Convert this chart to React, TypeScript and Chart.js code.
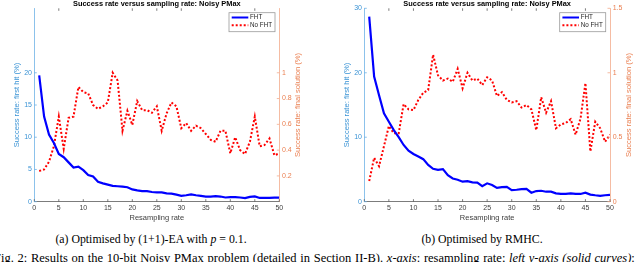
import React, { useEffect, useRef } from 'react';
import { Chart, registerables } from 'chart.js';

Chart.register(...registerables);

// ---------- data ----------
const resamplingRates = [
  1, 2, 3, 4, 5, 6, 7, 8, 9, 10, 11, 12, 13, 14, 15, 16, 17, 18, 19, 20, 21, 22, 23, 24, 25,
  26, 27, 28, 29, 30, 31, 32, 33, 34, 35, 36, 37, 38, 39, 40, 41, 42, 43, 44, 45, 46, 47, 48, 49, 50,
];
const xTickValues = [0, 5, 10, 15, 20, 25, 30, 35, 40, 45, 50];

// (a) (1+1)-EA, p = 0.1
const fhtEA = [
  19.6, 13.2, 10.4, 9.1, 7.4, 6.9, 6.1, 5.3, 5.45, 4.9, 4.15, 3.9, 3.1, 2.85, 2.65, 2.45, 2.4, 2.35, 2.25, 1.9,
  1.75, 1.65, 1.65, 1.5, 1.45, 1.45, 1.3, 1.25, 1.1, 0.9, 1.0, 1.12, 1.0, 0.9, 0.8, 0.8, 0.85, 0.8, 0.65, 0.7,
  0.7, 0.65, 0.55, 0.75, 0.82, 0.58, 0.6, 0.58, 0.62, 0.64,
];
const noFhtEA = [
  0.238, 0.25, 0.31, 0.43, 0.66, 0.41, 0.65, 0.66, 0.89, 0.85, 0.84, 0.75, 0.72, 0.74, 0.77, 1.0, 0.94, 0.55,
  0.705, 0.595, 0.78, 0.71, 0.71, 0.69, 0.74, 0.55, 0.685, 0.77, 0.74, 0.57, 0.61, 0.55, 0.59, 0.57, 0.525, 0.48,
  0.465, 0.55, 0.55, 0.375, 0.5, 0.4, 0.37, 0.465, 0.66, 0.43, 0.44, 0.49, 0.36, 0.375,
];

// (b) RMHC
const fhtRMHC = [
  28.7, 19.4, 16.5, 13.7, 12.4, 11.1, 10.0, 8.8, 7.9, 7.4, 7.0, 6.6, 5.7, 5.1, 4.95, 5.05, 4.1, 3.6, 3.4, 3.1,
  3.2, 3.0, 2.95, 2.4, 2.85, 2.6, 2.15, 2.25, 2.3, 1.8, 1.85, 1.95, 2.0, 1.4, 1.65, 1.7, 1.55, 1.55, 1.3, 1.2,
  1.2, 1.3, 1.2, 1.2, 1.4, 1.1, 1.0, 0.92, 1.0, 1.05,
];
const noFhtRMHC = [
  0.16, 0.34, 0.275, 0.43, 0.587, 0.53, 0.53, 0.757, 0.716, 0.71, 0.79, 0.845, 0.866, 1.14, 0.98, 0.94, 0.955,
  0.93, 1.03, 0.88, 1.0, 0.94, 0.955, 0.905, 0.965, 0.94, 0.82, 0.85, 0.79, 0.77, 0.78, 0.73, 0.75, 0.716, 0.555,
  0.81, 0.69, 0.78, 0.57, 0.6, 0.61, 0.64, 0.52, 0.645, 0.92, 0.39, 0.62, 0.57, 0.465, 0.52,
];

const leftTicksEA = [0, 5, 10, 15, 20];
const rightTicksEA = [0.2, 0.4, 0.6, 0.8, 1];
const leftTicksRMHC = [0, 10, 20, 30];
const rightTicksRMHC = [0, 0.5, 1, 1.5];
const topTicksEA = [5, 20, 25, 30, 45];
const topTicksRMHC = [5, 10, 20, 25, 30, 35, 45];

const chartTitle = 'Success rate versus sampling rate: Noisy PMax';
const xTitle = 'Resampling rate';
const leftTitle = 'Success rate: first hit (%)';
const rightTitle = 'Success rate: final solution (%)';
const legendLabels = ['FHT', 'No FHT'];

// ---------- styles ----------
const FONT = '"Liberation Sans", Arial, Helvetica, sans-serif';
const SERIF = '"Liberation Serif", "Times New Roman", serif';
const BLUE = '#0000ff';
const RED = '#ff0000';
const LEFT_TEXT = '#3a93d5';
const LEFT_LINE = '#6fb2e6';
const RIGHT_TEXT = '#ea7f50';
const RIGHT_LINE = '#f2ab8c';
const AXIS_GRAY = '#5a5a5a';
const TICK_TEXT = '#404040';

type PanelProps = {
  fht: number[];
  noFht: number[];
  leftTicks: number[];
  rightTicks: number[];
  topTicks: number[];
  leftMax: number;
  rightMax: number;
  leftWidth: number;
  rightWidth: number;
  leftTitlePad: number;
};

function makeDecor(p: PanelProps) {
  return {
    id: 'decor',
    afterDraw(chart: any) {
      const ctx = chart.ctx as CanvasRenderingContext2D;
      const { left, right, top, bottom } = chart.chartArea;
      const sx = chart.scales.x;
      const sl = chart.scales.yL;
      const sr = chart.scales.yR;
      const TL = 2.5;
      ctx.save();
      ctx.lineWidth = 0.8;
      ctx.strokeStyle = AXIS_GRAY;
      ctx.beginPath();
      xTickValues.forEach((v) => {
        const px = sx.getPixelForValue(v);
        ctx.moveTo(px, bottom);
        ctx.lineTo(px, bottom - TL);
      });
      p.topTicks.forEach((v) => {
        const px = sx.getPixelForValue(v);
        ctx.moveTo(px, top);
        ctx.lineTo(px, top + TL);
      });
      ctx.stroke();

      ctx.strokeStyle = LEFT_LINE;
      ctx.beginPath();
      p.leftTicks.forEach((v) => {
        const py = sl.getPixelForValue(v);
        ctx.moveTo(left, py);
        ctx.lineTo(left + TL, py);
      });
      ctx.stroke();

      ctx.strokeStyle = RIGHT_LINE;
      ctx.beginPath();
      p.rightTicks.forEach((v) => {
        const py = sr.getPixelForValue(v);
        ctx.moveTo(right, py);
        ctx.lineTo(right - TL, py);
      });
      ctx.stroke();

      // right axis title (reads bottom to top)
      ctx.save();
      ctx.translate(right + 18.6, (top + bottom) / 2);
      ctx.rotate(-Math.PI / 2);
      ctx.fillStyle = RIGHT_TEXT;
      ctx.font = `7.6px ${FONT}`;
      ctx.textAlign = 'center';
      ctx.textBaseline = 'middle';
      ctx.fillText(rightTitle, 0, 0);
      ctx.restore();

      // legend
      const bx1 = right - 4.3;
      const bx0 = bx1 - 46;
      const by0 = top + 4.4;
      const by1 = by0 + 19;
      ctx.fillStyle = '#ffffff';
      ctx.fillRect(bx0, by0, bx1 - bx0, by1 - by0);
      ctx.strokeStyle = '#9a9a9a';
      ctx.lineWidth = 0.8;
      ctx.strokeRect(bx0, by0, bx1 - bx0, by1 - by0);
      ctx.lineWidth = 2;
      ctx.strokeStyle = BLUE;
      ctx.beginPath();
      ctx.moveTo(bx0 + 2.7, by0 + 4.8);
      ctx.lineTo(bx0 + 19.3, by0 + 4.8);
      ctx.stroke();
      ctx.setLineDash([2, 2]);
      ctx.strokeStyle = RED;
      ctx.beginPath();
      ctx.moveTo(bx0 + 2.7, by0 + 12.5);
      ctx.lineTo(bx0 + 19.3, by0 + 12.5);
      ctx.stroke();
      ctx.setLineDash([]);
      ctx.fillStyle = '#262626';
      ctx.font = `6.3px ${FONT}`;
      ctx.textAlign = 'left';
      ctx.textBaseline = 'middle';
      ctx.fillText(legendLabels[0], bx0 + 21, by0 + 4.8);
      ctx.fillText(legendLabels[1], bx0 + 21, by0 + 12.5);
      ctx.restore();
    },
  };
}

function Panel(props: PanelProps & { left: number }) {
  const ref = useRef<HTMLCanvasElement | null>(null);
  useEffect(() => {
    if (!ref.current) return;
    const p = props;
    const chart = new Chart(ref.current, {
      type: 'line',
      data: {
        datasets: [
          {
            label: legendLabels[0],
            data: resamplingRates.map((r, i) => ({ x: r, y: p.fht[i] })),
            yAxisID: 'yL',
            borderColor: BLUE,
            backgroundColor: BLUE,
            borderWidth: 2.2,
            pointRadius: 0,
            tension: 0,
          },
          {
            label: legendLabels[1],
            data: resamplingRates.map((r, i) => ({ x: r, y: p.noFht[i] })),
            yAxisID: 'yR',
            borderColor: RED,
            backgroundColor: RED,
            borderWidth: 2,
            borderDash: [2, 2],
            pointRadius: 0,
            tension: 0,
          },
        ],
      },
      options: {
        animation: false,
        responsive: false,
        devicePixelRatio: 1,
        layout: { padding: 0 },
        plugins: {
          legend: { display: false },
          tooltip: { enabled: false },
          title: {
            display: true,
            text: chartTitle,
            fullSize: false,
            color: '#000000',
            font: { family: FONT, size: 7.4, weight: 'bold', lineHeight: '7.6px' },
            padding: { top: 0, bottom: 0.7 },
          },
        },
        scales: {
          x: {
            type: 'linear',
            min: 0,
            max: 50,
            afterBuildTicks: (s: any) => {
              s.ticks = xTickValues.map((v) => ({ value: v }));
            },
            afterFit: (s: any) => {
              s.height = 28.3;
            },
            ticks: {
              autoSkip: false,
              maxRotation: 0,
              padding: 2.4,
              color: TICK_TEXT,
              font: { family: FONT, size: 7 },
              callback: (v: any) => String(v),
            },
            grid: { display: false, drawTicks: false },
            border: { display: true, color: AXIS_GRAY, width: 0.8 },
            title: {
              display: true,
              text: xTitle,
              color: TICK_TEXT,
              font: { family: FONT, size: 7.5 },
              padding: { top: 0, bottom: 7.2 },
            },
          },
          yL: {
            type: 'linear',
            position: 'left',
            min: 0,
            max: p.leftMax,
            afterBuildTicks: (s: any) => {
              s.ticks = p.leftTicks.map((v) => ({ value: v }));
            },
            afterFit: (s: any) => {
              s.width = p.leftWidth;
            },
            ticks: {
              padding: 2.3,
              color: LEFT_TEXT,
              font: { family: FONT, size: 7 },
              callback: (v: any) => String(v),
            },
            grid: { display: false, drawTicks: false },
            border: { display: true, color: LEFT_LINE, width: 0.8 },
            title: {
              display: true,
              text: leftTitle,
              color: LEFT_TEXT,
              font: { family: FONT, size: 7.6 },
              padding: { top: p.leftTitlePad, bottom: 0 },
            },
          },
          yR: {
            type: 'linear',
            position: 'right',
            min: 0,
            max: p.rightMax,
            afterBuildTicks: (s: any) => {
              s.ticks = p.rightTicks.map((v) => ({ value: v }));
            },
            afterFit: (s: any) => {
              s.width = p.rightWidth;
            },
            ticks: {
              padding: 2.7,
              color: RIGHT_TEXT,
              font: { family: FONT, size: 7 },
              callback: (v: any) => String(v),
            },
            grid: { display: false, drawTicks: false },
            border: { display: true, color: RIGHT_LINE, width: 0.8 },
            title: { display: false },
          },
        },
      } as any,
      plugins: [makeDecor(p)],
    });
    return () => chart.destroy();
  }, []);
  return (
    <canvas
      ref={ref}
      width={320}
      height={230}
      style={{ position: 'absolute', left: props.left, top: 0, width: 320, height: 230 }}
    />
  );
}

export default function App() {
  return (
    <div
      style={{
        position: 'fixed',
        left: 0,
        top: 0,
        width: 640,
        height: 262,
        overflow: 'hidden',
        background: '#ffffff',
      }}
    >
      <Panel
        left={0}
        fht={fhtEA}
        noFht={noFhtEA}
        leftTicks={leftTicksEA}
        rightTicks={rightTicksEA}
        topTicks={topTicksEA}
        leftMax={30}
        rightMax={1.5}
        leftWidth={34.3}
        rightWidth={40.7}
        leftTitlePad={12.2}
      />
      <Panel
        left={320}
        fht={fhtRMHC}
        noFht={noFhtRMHC}
        leftTicks={leftTicksRMHC}
        rightTicks={rightTicksRMHC}
        topTicks={topTicksRMHC}
        leftMax={30}
        rightMax={1.5}
        leftWidth={44.3}
        rightWidth={30}
        leftTitlePad={22.2}
      />
      <div
        style={{
          position: 'absolute',
          left: 0,
          width: 302,
          top: 233.8,
          textAlign: 'center',
          font: `11.8px/11.8px ${SERIF}`,
          color: '#000',
          whiteSpace: 'nowrap',
        }}
      >
        (a) Optimised by (1+1)-EA with <i>p</i> = 0.1.
      </div>
      <div
        style={{
          position: 'absolute',
          left: 382,
          width: 200,
          top: 233.8,
          textAlign: 'center',
          font: `11.8px/11.8px ${SERIF}`,
          color: '#000',
          whiteSpace: 'nowrap',
        }}
      >
        (b) Optimised by RMHC.
      </div>
      <div
        style={{
          position: 'absolute',
          left: -6,
          top: 252.3,
          font: `12.5px/12.5px ${SERIF}`,
          color: '#000',
          whiteSpace: 'nowrap',
          wordSpacing: '0.6px',
        }}
      >
        Fig. 2: Results on the 10-bit Noisy PMax problem (detailed in Section II-B). <i>x-axis</i>: resampling
        rate; <i>left y-axis (solid curves)</i>:
      </div>
    </div>
  );
}
